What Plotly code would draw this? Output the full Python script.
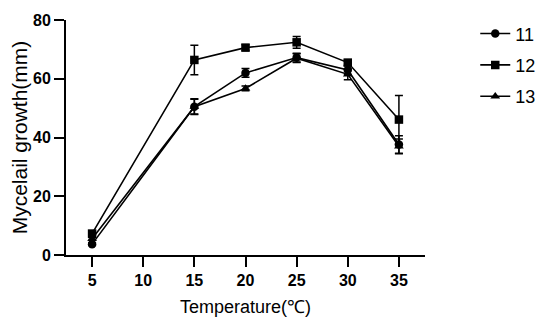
import plotly.graph_objects as go

temps = [5, 15, 20, 25, 30, 35]
s11 = [3.7, 50.5, 62.0, 67.2, 63.0, 37.6]
s11_err = [0.5, 2.7, 1.5, 1.5, 1.5, 3.0]
s12 = [7.3, 66.4, 70.6, 72.4, 65.5, 46.1]
s12_err = [0.5, 5.0, 1.0, 2.0, 1.0, 8.2]
s13 = [5.5, 50.5, 56.7, 67.0, 61.5, 37.0]
s13_err = [0.5, 2.5, 0.8, 1.5, 1.8, 2.5]
names = ["11", "12", "13"]
symbols = ["circle", "square", "triangle-up"]

fig = go.Figure()
for i, (vals, errs) in enumerate([(s11, s11_err), (s12, s12_err), (s13, s13_err)]):
    fig.add_trace(go.Scatter(
        x=temps, y=vals, name=names[i], mode="lines+markers",
        legendgroup=names[i],
        line=dict(color="black", width=1.6),
        marker=dict(symbol=symbols[i], size=8.5, color="black"),
        error_y=dict(type="data", array=errs, color="black", thickness=1.5, width=4),
    ))

# page body adds an 8px offset; margins compensate
fig.update_layout(
    width=550, height=325,
    margin=dict(l=58, r=133, t=7, b=78),
    plot_bgcolor="white", paper_bgcolor="white",
    font=dict(family="Arial, Liberation Sans, sans-serif", color="black"),
    legend=dict(x=1.14, y=1.02, xanchor="left", yanchor="top",
                font=dict(size=18), tracegroupgap=5, itemwidth=30,
                bgcolor="rgba(0,0,0,0)"),
    showlegend=True,
)
fig.update_xaxes(
    range=[2.45, 37.55], tickvals=[5, 10, 15, 20, 25, 30, 35],
    showline=True, linecolor="black", linewidth=2, ticks="outside",
    ticklen=10, tickwidth=2, tickcolor="black", showgrid=False, zeroline=False,
    tickfont=dict(size=16, weight="bold"), automargin=False,
    title=dict(text="Temperature(\u2103)", font=dict(size=18), standoff=12),
)
fig.update_yaxes(
    range=[0, 80], tickvals=[0, 20, 40, 60, 80],
    showline=True, linecolor="black", linewidth=2, ticks="outside",
    ticklen=10, tickwidth=2, tickcolor="black", showgrid=False, zeroline=False,
    tickfont=dict(size=16, weight="bold"), automargin=False,
    title=dict(text="Mycelail growth(mm)", font=dict(size=21), standoff=4),
)
fig.write_html("out.html")
